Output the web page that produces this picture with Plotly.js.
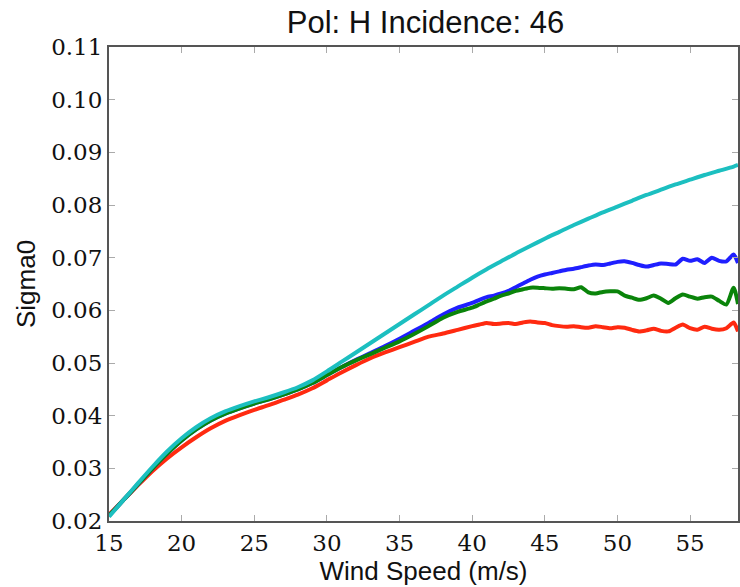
<!DOCTYPE html>
<html>
<head>
<meta charset="utf-8">
<script src="https://cdn.plot.ly/plotly-3.0.1.min.js"></script>
<style>html,body{margin:0;padding:0;background:#fff;}#chart{width:740px;height:587px;}</style>
</head>
<body>
<div id="chart"></div>
<script>
// Wind speed grids (m/s)
const speedSmooth = [15,16,17,18,19,20,21,22,23,24,25,26,27,28,29,30,31,32,33,34,35,36,37,38,39,40,
  41,42,43,44,45,46,47,48,49,50,51,52,53,54,55,56,57,58,58.3];
const speedNoisy = [15,16,17,18,19,20,21,22,23,24,25,26,27,28,29,30,31,32,33,34,35,36,37,38,39,40,
  40.5,41,41.5,42,42.5,43,43.5,44,44.5,45,45.5,46,46.5,47,47.5,48,48.5,49,49.5,50,50.5,51,51.5,52,52.5,
  53,53.5,54,54.5,55,55.5,56,56.5,57,57.5,58,58.3];

// Sigma0 series
const cyanSeries = [0.0208,0.0240,0.0272,0.0303,0.0332,0.0357,0.0378,0.0395,0.0408,0.0418,0.0427,0.0435,0.0444,0.0454,
  0.0467,0.0484,0.0502,0.0520,0.0538,0.0556,0.0574,0.0592,0.0610,0.0628,0.0645,0.0662,
  0.0678,0.0693,0.0708,0.0722,0.0736,0.0749,0.0762,0.0774,0.0786,0.0797,0.0808,0.0819,0.0829,0.0839,0.0848,0.0857,0.0865,0.0873,0.0876];

const blueSeries = [0.0210,0.0240,0.0270,0.0300,0.0328,0.0353,0.0374,0.0391,0.0404,0.0414,0.0423,0.0431,0.0440,0.0450,
  0.0462,0.0477,0.0492,0.0506,0.0519,0.0532,0.0546,0.0561,0.0576,0.0592,0.0605,0.0614,
  0.0620,0.0625,0.0628,0.0632,0.0637,0.0644,0.0651,0.0658,0.0664,0.0668,0.0671,0.0674,0.0677,0.0679,0.0682,0.0685,
  0.0687,0.0686,0.0689,0.0692,0.0693,0.0690,0.0686,0.0683,0.0686,0.0689,0.0688,0.0687,0.0698,0.0694,0.0697,0.0690,
  0.0700,0.0694,0.0693,0.0706,0.0690];

const greenSeries = [0.0210,0.0240,0.0270,0.0300,0.0328,0.0353,0.0374,0.0391,0.0404,0.0414,0.0423,0.0431,0.0440,0.0450,
  0.0462,0.0477,0.0492,0.0505,0.0517,0.0529,0.0541,0.0555,0.0570,0.0586,0.0597,0.0605,
  0.0611,0.0617,0.0622,0.0628,0.0632,0.0637,0.0640,0.0643,0.0643,0.0642,0.0641,0.0642,0.0641,0.0640,0.0644,0.0634,
  0.0632,0.0635,0.0636,0.0636,0.0628,0.0624,0.0620,0.0623,0.0628,0.0622,0.0614,0.0623,0.0630,0.0626,0.0622,0.0625,
  0.0626,0.0618,0.0611,0.0643,0.0612];

const redSeries = [0.0212,0.0240,0.0268,0.0295,0.0319,0.0340,0.0359,0.0376,0.0390,0.0401,0.0411,0.0420,0.0430,0.0440,
  0.0452,0.0467,0.0482,0.0496,0.0509,0.0520,0.0530,0.0540,0.0550,0.0556,0.0563,0.0570,
  0.0573,0.0576,0.0574,0.0575,0.0576,0.0574,0.0577,0.0579,0.0577,0.0576,0.0572,0.0570,0.0569,0.0570,0.0568,0.0567,
  0.0570,0.0568,0.0566,0.0568,0.0567,0.0563,0.0560,0.0562,0.0565,0.0561,0.0560,0.0567,0.0573,0.0566,0.0563,0.0569,
  0.0565,0.0563,0.0566,0.0577,0.0560];

const xTicks = [15,20,25,30,35,40,45,50,55];
const yTicks = [0.02,0.03,0.04,0.05,0.06,0.07,0.08,0.09,0.10,0.11];

function line(x, y, color) {
  return {x: x, y: y, type: 'scatter', mode: 'lines', line: {color: color, width: 4, shape: 'spline', smoothing: 0.6}, hoverinfo: 'skip', showlegend: false};
}

const traces = [
  line(speedNoisy, redSeries, '#ff2a10'),
  line(speedNoisy, blueSeries, '#1f1fff'),
  line(speedNoisy, greenSeries, '#0a840a'),
  line(speedSmooth, cyanSeries, '#1cbfc0')
];

const tickFont = {family: 'DejaVu Serif, serif', size: 23, color: '#111'};

const layout = {
  width: 740, height: 587,
  margin: {l: 109, r: 2, t: 47, b: 66, pad: 0},
  paper_bgcolor: '#fff', plot_bgcolor: '#fff',
  title: {text: 'Pol: H Incidence: 46', x: 0.575, xanchor: 'center', y: 0.962, yanchor: 'middle',
    font: {family: 'Liberation Sans, Arial, sans-serif', size: 31, color: '#111'}},
  xaxis: {
    range: [15, 58.3], tickvals: xTicks, ticktext: xTicks.map(String),
    showgrid: false, zeroline: false,
    showline: true, linecolor: '#555', linewidth: 2, mirror: 'allticks',
    ticks: 'inside', ticklen: 6, tickcolor: '#aaa', tickwidth: 1,
    tickfont: tickFont,
    title: {text: 'Wind Speed (m/s)', standoff: 2, font: {family: 'Liberation Sans, Arial, sans-serif', size: 26, color: '#111'}}
  },
  yaxis: {
    range: [0.02, 0.11], tickvals: yTicks, ticktext: yTicks.map(v => v.toFixed(2)),
    showgrid: false, zeroline: false,
    showline: true, linecolor: '#555', linewidth: 2, mirror: 'allticks',
    ticks: 'inside', ticklen: 6, tickcolor: '#aaa', tickwidth: 1,
    tickfont: tickFont,
    title: {text: 'Sigma0', standoff: 8, font: {family: 'Liberation Sans, Arial, sans-serif', size: 26, color: '#111'}}
  }
};

Plotly.newPlot('chart', traces, layout, {staticPlot: true, displayModeBar: false});
</script>
</body>
</html>
